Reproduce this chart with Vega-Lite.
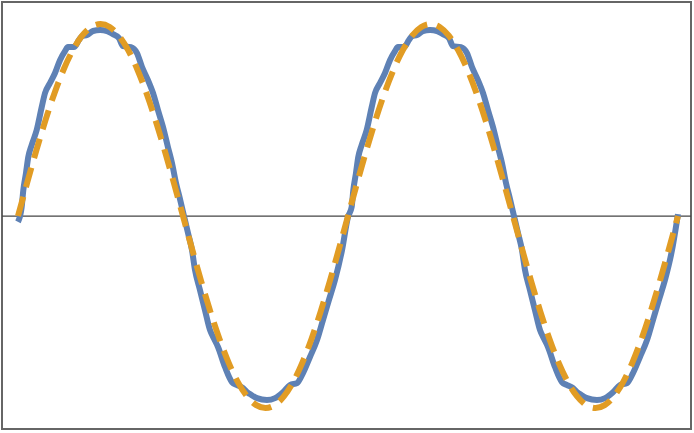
{
  "$schema": "https://vega.github.io/schema/vega-lite/v6.json",
  "width": 689,
  "height": 427,
  "autosize": "none",
  "padding": {"left": 2, "top": 2, "right": 3, "bottom": 4},
  "background": "white",
  "config": {"view": {"stroke": "#666666", "strokeWidth": 2}},
  "datasets": {
    "blue": [
      {"p": 0, "v": -0.03}, {"p": 4, "v": 0.047}, {"p": 5.8, "v": 0.135}, {"p": 8.7, "v": 0.224}, {"p": 11.2, "v": 0.307}, {"p": 14.9, "v": 0.37}, {"p": 20.4, "v": 0.448}, {"p": 25.9, "v": 0.568}, {"p": 29.5, "v": 0.641}, {"p": 34.9, "v": 0.693}, {"p": 40.4, "v": 0.745}, {"p": 45.8, "v": 0.812}, {"p": 51.3, "v": 0.859}, {"p": 54.5, "v": 0.88}, {"p": 61.1, "v": 0.88}, {"p": 66.5, "v": 0.917}, {"p": 69.8, "v": 0.937}, {"p": 75.3, "v": 0.943}, {"p": 81.8, "v": 0.964}, {"p": 89.5, "v": 0.969}, {"p": 97.1, "v": 0.964}, {"p": 103.6, "v": 0.948}, {"p": 110.2, "v": 0.927}, {"p": 114.5, "v": 0.885}, {"p": 123.3, "v": 0.88}, {"p": 129.8, "v": 0.849}, {"p": 135.3, "v": 0.776}, {"p": 141.8, "v": 0.708}, {"p": 147.3, "v": 0.641}, {"p": 152.7, "v": 0.552}, {"p": 158.2, "v": 0.464}, {"p": 163.6, "v": 0.359}, {"p": 168, "v": 0.276}, {"p": 172.4, "v": 0.172}, {"p": 176.7, "v": 0.089}, {"p": 181.1, "v": 0}, {"p": 185.5, "v": -0.089}, {"p": 189.8, "v": -0.177}, {"p": 193.1, "v": -0.281}, {"p": 198.5, "v": -0.385}, {"p": 204, "v": -0.49}, {"p": 209.5, "v": -0.594}, {"p": 214, "v": -0.64}, {"p": 218.2, "v": -0.682}, {"p": 225.8, "v": -0.786}, {"p": 233.5, "v": -0.865}, {"p": 239, "v": -0.88}, {"p": 245.5, "v": -0.896}, {"p": 249.8, "v": -0.917}, {"p": 253.1, "v": -0.927}, {"p": 260.7, "v": -0.948}, {"p": 271.6, "v": -0.958}, {"p": 280.4, "v": -0.948}, {"p": 289.1, "v": -0.917}, {"p": 296.7, "v": -0.88}, {"p": 304.4, "v": -0.87}, {"p": 310.9, "v": -0.818}, {"p": 318.5, "v": -0.734}, {"p": 326.2, "v": -0.646}, {"p": 332.7, "v": -0.542}, {"p": 339, "v": -0.44}, {"p": 345.8, "v": -0.333}, {"p": 353.5, "v": -0.177}, {"p": 360, "v": -0.005},
      {"p": 364, "v": 0.047}, {"p": 365.8, "v": 0.135}, {"p": 368.7, "v": 0.224}, {"p": 371.2, "v": 0.307}, {"p": 374.9, "v": 0.37}, {"p": 380.4, "v": 0.448}, {"p": 385.9, "v": 0.568}, {"p": 389.5, "v": 0.641}, {"p": 394.9, "v": 0.693}, {"p": 400.4, "v": 0.745}, {"p": 405.8, "v": 0.812}, {"p": 411.3, "v": 0.859}, {"p": 414.5, "v": 0.88}, {"p": 421.1, "v": 0.88}, {"p": 426.5, "v": 0.917}, {"p": 429.8, "v": 0.937}, {"p": 435.3, "v": 0.943}, {"p": 441.8, "v": 0.964}, {"p": 449.5, "v": 0.969}, {"p": 457.1, "v": 0.964}, {"p": 463.6, "v": 0.948}, {"p": 470.2, "v": 0.927}, {"p": 474.5, "v": 0.885}, {"p": 483.3, "v": 0.88}, {"p": 489.8, "v": 0.849}, {"p": 495.3, "v": 0.776}, {"p": 501.8, "v": 0.708}, {"p": 507.3, "v": 0.641}, {"p": 512.7, "v": 0.552}, {"p": 518.2, "v": 0.464}, {"p": 523.6, "v": 0.359}, {"p": 528, "v": 0.276}, {"p": 532.4, "v": 0.172}, {"p": 536.7, "v": 0.089}, {"p": 541.1, "v": 0}, {"p": 545.5, "v": -0.089}, {"p": 549.8, "v": -0.177}, {"p": 553.1, "v": -0.281}, {"p": 558.5, "v": -0.385}, {"p": 564, "v": -0.49}, {"p": 569.5, "v": -0.594}, {"p": 574, "v": -0.64}, {"p": 578.2, "v": -0.682}, {"p": 585.8, "v": -0.786}, {"p": 593.5, "v": -0.865}, {"p": 599, "v": -0.88}, {"p": 605.5, "v": -0.896}, {"p": 609.8, "v": -0.917}, {"p": 613.1, "v": -0.927}, {"p": 620.7, "v": -0.948}, {"p": 631.6, "v": -0.958}, {"p": 640.4, "v": -0.948}, {"p": 649.1, "v": -0.917}, {"p": 656.7, "v": -0.88}, {"p": 664.4, "v": -0.87}, {"p": 670.9, "v": -0.818}, {"p": 678.5, "v": -0.734}, {"p": 686.2, "v": -0.646}, {"p": 692.7, "v": -0.542}, {"p": 699, "v": -0.44}, {"p": 705.8, "v": -0.333}, {"p": 713.5, "v": -0.177}, {"p": 720, "v": 0.01}
    ],
    "orange": [
      {"p": 0, "v": 0}, {"p": 10, "v": 0.1736}, {"p": 20, "v": 0.342}, {"p": 30, "v": 0.5}, {"p": 40, "v": 0.6428}, {"p": 50, "v": 0.766}, {"p": 60, "v": 0.866}, {"p": 70, "v": 0.9397}, {"p": 80, "v": 0.9848}, {"p": 90, "v": 1}, {"p": 100, "v": 0.9848}, {"p": 110, "v": 0.9397}, {"p": 120, "v": 0.866}, {"p": 130, "v": 0.766}, {"p": 140, "v": 0.6428}, {"p": 150, "v": 0.5}, {"p": 160, "v": 0.342}, {"p": 170, "v": 0.1736}, {"p": 180, "v": 0},
      {"p": 190, "v": -0.1736}, {"p": 200, "v": -0.342}, {"p": 210, "v": -0.5}, {"p": 220, "v": -0.6428}, {"p": 230, "v": -0.766}, {"p": 240, "v": -0.866}, {"p": 250, "v": -0.9397}, {"p": 260, "v": -0.9848}, {"p": 270, "v": -1}, {"p": 280, "v": -0.9848}, {"p": 290, "v": -0.9397}, {"p": 300, "v": -0.866}, {"p": 310, "v": -0.766}, {"p": 320, "v": -0.6428}, {"p": 330, "v": -0.5}, {"p": 340, "v": -0.342}, {"p": 350, "v": -0.1736}, {"p": 360, "v": 0},
      {"p": 370, "v": 0.1736}, {"p": 380, "v": 0.342}, {"p": 390, "v": 0.5}, {"p": 400, "v": 0.6428}, {"p": 410, "v": 0.766}, {"p": 420, "v": 0.866}, {"p": 430, "v": 0.9397}, {"p": 440, "v": 0.9848}, {"p": 450, "v": 1}, {"p": 460, "v": 0.9848}, {"p": 470, "v": 0.9397}, {"p": 480, "v": 0.866}, {"p": 490, "v": 0.766}, {"p": 500, "v": 0.6428}, {"p": 510, "v": 0.5}, {"p": 520, "v": 0.342}, {"p": 530, "v": 0.1736}, {"p": 540, "v": 0},
      {"p": 550, "v": -0.1736}, {"p": 560, "v": -0.342}, {"p": 570, "v": -0.5}, {"p": 580, "v": -0.6428}, {"p": 590, "v": -0.766}, {"p": 600, "v": -0.866}, {"p": 610, "v": -0.9397}, {"p": 620, "v": -0.9848}, {"p": 630, "v": -1}, {"p": 640, "v": -0.9848}, {"p": 650, "v": -0.9397}, {"p": 660, "v": -0.866}, {"p": 670, "v": -0.766}, {"p": 680, "v": -0.6428}, {"p": 690, "v": -0.5}, {"p": 700, "v": -0.342}, {"p": 710, "v": -0.1736}, {"p": 720, "v": 0}
    ],
    "zero": [{"v": 0}]
  },
  "layer": [
    {
      "data": {"name": "zero"},
      "mark": {"type": "rule", "color": "#444444", "strokeWidth": 1.1},
      "encoding": {
        "y": {"field": "v", "type": "quantitative", "scale": {"domain": [-1.109, 1.115], "nice": false, "zero": false}, "axis": null}
      }
    },
    {
      "data": {"name": "blue"},
      "mark": {"type": "line", "color": "#5E81B5", "strokeWidth": 6, "strokeJoin": "miter", "interpolate": "monotone", "clip": true},
      "encoding": {
        "x": {"field": "p", "type": "quantitative", "scale": {"domain": [-17.45, 734.2], "nice": false, "zero": false}, "axis": null},
        "y": {"field": "v", "type": "quantitative", "scale": {"domain": [-1.109, 1.115], "nice": false, "zero": false}, "axis": null}
      }
    },
    {
      "data": {"name": "orange"},
      "mark": {"type": "line", "color": "#E19C24", "strokeWidth": 6, "strokeDash": [20, 10], "interpolate": "natural", "clip": true},
      "encoding": {
        "x": {"field": "p", "type": "quantitative", "scale": {"domain": [-17.45, 734.2], "nice": false, "zero": false}, "axis": null},
        "y": {"field": "v", "type": "quantitative", "scale": {"domain": [-1.109, 1.115], "nice": false, "zero": false}, "axis": null}
      }
    }
  ]
}
